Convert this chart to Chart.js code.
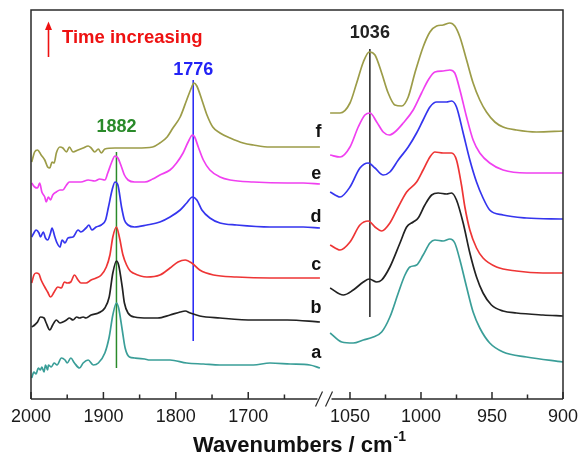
<!DOCTYPE html>
<html><head><meta charset="utf-8">
<script src="https://cdn.jsdelivr.net/npm/chart.js@4"></script>
<style>html,body{margin:0;padding:0;background:#fff}canvas{display:block}</style>
</head><body>
<canvas id="c" width="579" height="463"></canvas>
<script>
// ---- tick values (cm-1) ----
const ticksLow = [2000,1950,1900,1850,1800,1750,1700,1650];
const ticksHigh = [1050,1025,1000,975,950,925,900];
const seriesNames = ['a','b','c','d','e','f'];

// ---- spectra, 2000-1600 cm-1 region: [wavenumber, absorbance (offset)] ----
const aLow = [[1999,0.21],[1996,0.27],[1993,0.25],[1990,0.31],[1987,0.29],[1985,0.32],[1982,0.27],[1980,0.34],[1977,0.29],[1976,0.34],[1972,0.32],[1968,0.36],[1964,0.34],[1958,0.41],[1953,0.39],[1950,0.36],[1945,0.41],[1940,0.36],[1933,0.31],[1928,0.36],[1921,0.39],[1914,0.34],[1907,0.36],[1898,0.46],[1892,0.62],[1887,0.84],[1882,0.96],[1879,0.91],[1874,0.69],[1870,0.51],[1864,0.42],[1857,0.41],[1843,0.40],[1836,0.39],[1808,0.39],[1785,0.36],[1762,0.35],[1739,0.34],[1693,0.34],[1670,0.36],[1642,0.35],[1615,0.34],[1601,0.31]];
const bLow = [[1999,0.72],[1995,0.74],[1991,0.77],[1987,0.82],[1982,0.81],[1979,0.76],[1974,0.69],[1970,0.74],[1965,0.79],[1960,0.76],[1956,0.77],[1951,0.79],[1947,0.81],[1942,0.79],[1937,0.82],[1933,0.81],[1928,0.82],[1924,0.81],[1917,0.84],[1907,0.86],[1898,0.91],[1892,1.02],[1887,1.26],[1882,1.38],[1879,1.34],[1874,1.12],[1871,0.96],[1866,0.86],[1857,0.82],[1838,0.81],[1825,0.81],[1808,0.84],[1794,0.87],[1787,0.88],[1780,0.86],[1767,0.83],[1739,0.81],[1693,0.79],[1646,0.79],[1601,0.77]];
const cLow = [[1999,1.16],[1996,1.24],[1993,1.26],[1989,1.25],[1986,1.19],[1981,1.12],[1977,1.07],[1973,1.02],[1968,1.07],[1963,1.12],[1958,1.11],[1954,1.17],[1950,1.16],[1945,1.17],[1940,1.24],[1935,1.19],[1931,1.16],[1924,1.16],[1917,1.19],[1910,1.21],[1903,1.24],[1896,1.32],[1891,1.44],[1887,1.62],[1882,1.72],[1878,1.62],[1873,1.44],[1868,1.34],[1863,1.28],[1859,1.26],[1840,1.22],[1822,1.24],[1808,1.31],[1797,1.37],[1787,1.39],[1778,1.36],[1767,1.29],[1748,1.24],[1716,1.22],[1670,1.21],[1624,1.21],[1601,1.21]];
const dLow = [[1999,1.62],[1996,1.66],[1993,1.69],[1989,1.66],[1987,1.62],[1983,1.67],[1980,1.61],[1977,1.59],[1973,1.66],[1971,1.71],[1967,1.62],[1964,1.56],[1960,1.52],[1957,1.59],[1953,1.56],[1949,1.61],[1942,1.62],[1935,1.69],[1931,1.67],[1924,1.71],[1920,1.74],[1916,1.69],[1910,1.72],[1903,1.74],[1897,1.79],[1893,1.92],[1888,2.09],[1884,2.17],[1880,2.14],[1875,1.92],[1871,1.79],[1866,1.74],[1857,1.72],[1840,1.74],[1822,1.77],[1808,1.82],[1794,1.89],[1785,1.96],[1777,2.02],[1771,1.99],[1764,1.89],[1753,1.81],[1739,1.76],[1716,1.74],[1670,1.72],[1624,1.72],[1601,1.71]];
const eLow = [[1999,2.16],[1995,2.12],[1991,2.11],[1988,2.16],[1985,2.07],[1981,2.02],[1979,1.97],[1976,2.02],[1973,1.99],[1970,2.04],[1965,2.07],[1960,2.09],[1956,2.09],[1951,2.14],[1947,2.17],[1940,2.17],[1931,2.17],[1921,2.19],[1912,2.18],[1905,2.20],[1898,2.19],[1894,2.26],[1889,2.36],[1884,2.43],[1880,2.41],[1875,2.32],[1871,2.24],[1866,2.19],[1857,2.17],[1843,2.17],[1832,2.20],[1822,2.24],[1808,2.29],[1799,2.36],[1790,2.46],[1783,2.57],[1777,2.64],[1774,2.62],[1769,2.52],[1762,2.39],[1753,2.29],[1739,2.22],[1725,2.19],[1693,2.17],[1646,2.16],[1624,2.16],[1601,2.15]];
const fLow = [[1999,2.37],[1995,2.47],[1991,2.49],[1986,2.44],[1981,2.39],[1977,2.32],[1974,2.31],[1971,2.37],[1968,2.36],[1965,2.46],[1960,2.52],[1956,2.51],[1951,2.47],[1947,2.52],[1942,2.47],[1935,2.49],[1928,2.51],[1921,2.53],[1917,2.51],[1912,2.47],[1907,2.50],[1903,2.46],[1898,2.50],[1884,2.51],[1866,2.51],[1854,2.51],[1832,2.52],[1822,2.56],[1812,2.62],[1804,2.71],[1794,2.82],[1785,2.99],[1778,3.12],[1775,3.16],[1771,3.13],[1764,2.99],[1757,2.84],[1749,2.72],[1739,2.66],[1725,2.61],[1707,2.56],[1693,2.54],[1670,2.52],[1646,2.52],[1624,2.52],[1601,2.52]];

// ---- spectra, 1065-900 cm-1 region ----
const aHigh = [[1064,0.66],[1055.8,0.57],[1047.7,0.56],[1040.6,0.59],[1033.6,0.62],[1027.7,0.67],[1021.9,0.82],[1016,1.06],[1011.3,1.24],[1007.8,1.32],[1003.1,1.34],[998.5,1.44],[993.7,1.56],[990.2,1.59],[984.4,1.58],[979.7,1.60],[976.2,1.56],[972.6,1.39],[967.9,1.12],[963.3,0.87],[958.6,0.71],[951.6,0.56],[942.2,0.47],[925.7,0.42],[900,0.37]];
const bHigh = [[1064,1.11],[1054.7,1.04],[1047.7,1.09],[1040.6,1.17],[1036.4,1.20],[1031.2,1.17],[1027.7,1.19],[1021.9,1.32],[1014.8,1.56],[1010.1,1.72],[1005.5,1.77],[1002,1.81],[997.3,1.94],[992.5,2.04],[987.9,2.06],[982,2.05],[978.5,2.06],[975,1.99],[970.3,1.76],[965.6,1.46],[960.9,1.22],[956.3,1.06],[950.4,0.94],[942.2,0.88],[932.8,0.86],[914.1,0.84],[900,0.83]];
const cHigh = [[1064,1.54],[1057,1.49],[1050,1.57],[1043,1.74],[1037.1,1.78],[1032.4,1.72],[1027.7,1.68],[1021.9,1.76],[1016,1.92],[1010.1,2.07],[1003.1,2.17],[998.5,2.29],[993.7,2.42],[990.2,2.47],[984.4,2.46],[978.5,2.46],[975,2.39],[971.5,2.14],[969.1,1.92],[965.6,1.69],[960.9,1.51],[956.3,1.41],[946.8,1.32],[932.8,1.28],[914.1,1.26],[900,1.26]];
const dHigh = [[1064,2.07],[1057,2.02],[1050,2.12],[1043,2.31],[1037.1,2.36],[1032.4,2.31],[1026.6,2.24],[1021.9,2.27],[1016,2.39],[1009,2.52],[1003.1,2.66],[998.5,2.79],[993.7,2.92],[989,2.97],[982,2.97],[978.5,2.98],[975,2.92],[970.3,2.66],[965.6,2.39],[960.9,2.17],[956.3,2.01],[951.6,1.89],[942.2,1.84],[925.7,1.81],[900,1.80]];
const eHigh = [[1064,2.44],[1057,2.42],[1050,2.52],[1044.2,2.72],[1039.5,2.84],[1035.9,2.86],[1031.2,2.77],[1026.6,2.67],[1022.4,2.64],[1018.4,2.67],[1012.5,2.76],[1005.5,2.89],[999.6,3.06],[994.9,3.19],[990.2,3.27],[984.4,3.28],[979.7,3.29],[976.2,3.26],[972.6,3.09],[967.9,2.82],[963.3,2.59],[958.6,2.46],[951.6,2.36],[942.2,2.29],[925.7,2.26],[900,2.26]];
const fHigh = [[1064,2.86],[1057,2.86],[1050,2.96],[1045.3,3.16],[1040.6,3.37],[1036.4,3.47],[1032.4,3.44],[1027.7,3.26],[1023.1,3.06],[1018.4,2.94],[1013.6,2.93],[1009,3.02],[1004.3,3.26],[998.5,3.52],[993.7,3.67],[989,3.73],[984.4,3.74],[979.7,3.76],[976.2,3.73],[972.6,3.62],[967.9,3.39],[963.3,3.16],[958.6,2.99],[953.9,2.87],[948,2.77],[942.2,2.72],[932.8,2.69],[918.7,2.67],[900,2.68]];

// ---- marked peak positions ----
const peakWn = [1882, 1776, 1036];
const peakSpan = [[0.31, 2.47], [0.58, 3.19], [0.82, 3.50]];

const lowSets = [aLow,bLow,cLow,dLow,eLow,fLow];
const highSets = [aHigh,bHigh,cHigh,dHigh,eHigh,fHigh];
const colors = ['#3a9e98','#222222','#ee3535','#3535ee','#f040f0','#9c9c48'];
const peakColors = ['#2a8a2a','#2323f5','#222222'];
const peakAxes = ['x1','x1','x2'];

const toXY = arr => arr.map(p => ({x:p[0], y:p[1]}));
const datasets = [];
seriesNames.forEach((n,i) => {
  const common = {borderColor:colors[i], borderWidth:1.7, pointRadius:0, fill:false, cubicInterpolationMode:'monotone', yAxisID:'y'};
  datasets.push(Object.assign({label:n+'-low', data:toXY(lowSets[i]), xAxisID:'x1'}, common));
  datasets.push(Object.assign({label:n+'-high', data:toXY(highSets[i]), xAxisID:'x2'}, common));
});
peakWn.forEach((w,i) => {
  datasets.push({label:'peak'+w, data:[{x:w,y:peakSpan[i][0]},{x:w,y:peakSpan[i][1]}], xAxisID:peakAxes[i], yAxisID:'y',
    borderColor:peakColors[i], borderWidth:1.5, pointRadius:0, tension:0});
});

const FONT = '"Liberation Sans", Arial, Helvetica, sans-serif';

const decor = {
  id:'decor',
  afterDraw(chart){
    const ctx = chart.ctx;
    const {left,right,top,bottom} = chart.chartArea;
    const X1 = chart.scales.x1, X2 = chart.scales.x2, Y = chart.scales.y;
    ctx.save();
    ctx.strokeStyle = '#2a2a2a'; ctx.lineWidth = 1.5; ctx.lineCap='butt';
    ctx.beginPath();
    ctx.moveTo(left, bottom); ctx.lineTo(left, top); ctx.lineTo(right, top); ctx.lineTo(right, bottom);
    ctx.stroke();
    const bx = X1.right - 0.5;
    ctx.beginPath();
    ctx.moveTo(left, bottom); ctx.lineTo(bx-7, bottom);
    ctx.moveTo(bx+7, bottom); ctx.lineTo(right, bottom);
    ctx.stroke();
    ctx.lineWidth = 1.2;
    ctx.beginPath();
    [-5.5, 4.5].forEach(d => { ctx.moveTo(bx+d-3.5, bottom+7.5); ctx.lineTo(bx+d+3.5, bottom-7.5); });
    ctx.stroke();
    // inward ticks
    ctx.lineWidth = 1.5;
    ctx.beginPath();
    ticksLow.forEach(v => { const px = X1.getPixelForValue(v); const L = v % 100 === 0 ? 7 : 4.5; ctx.moveTo(px, bottom); ctx.lineTo(px, bottom - L); });
    ticksHigh.forEach(v => { const px = X2.getPixelForValue(v); const L = v % 50 === 0 ? 7 : 4.5; ctx.moveTo(px, bottom); ctx.lineTo(px, bottom - L); });
    ctx.stroke();

    // series letters
    ctx.font = 'bold 18px ' + FONT; ctx.fillStyle = '#111'; ctx.textAlign = 'right'; ctx.textBaseline = 'alphabetic';
    const letterY = [0.41, 0.86, 1.29, 1.77, 2.20, 2.62];
    seriesNames.forEach((n,i) => ctx.fillText(n, X1.getPixelForValue(1599), Y.getPixelForValue(letterY[i])));

    // peak labels
    ctx.textAlign = 'center';
    const peakLabelY = [2.67, 3.24, 3.61];
    peakWn.forEach((w,i) => {
      ctx.fillStyle = peakColors[i];
      const sc = chart.scales[peakAxes[i]];
      ctx.fillText(String(w), sc.getPixelForValue(w), Y.getPixelForValue(peakLabelY[i]));
    });

    // time increasing
    ctx.fillStyle = '#ee1111'; ctx.strokeStyle = '#ee1111';
    ctx.textAlign = 'left';
    ctx.font = 'bold 18.5px ' + FONT;
    ctx.fillText('Time increasing', 62, 42.5);
    ctx.lineWidth = 1.6;
    ctx.beginPath(); ctx.moveTo(48.5, 57); ctx.lineTo(48.5, 28); ctx.stroke();
    ctx.beginPath(); ctx.moveTo(48.5, 21.5); ctx.lineTo(45, 30); ctx.lineTo(52, 30); ctx.closePath(); ctx.fill();

    // axis title
    const main = 'Wavenumbers / cm', sup = '-1';
    ctx.fillStyle = '#111';
    ctx.font = 'bold 22px ' + FONT; const w1 = ctx.measureText(main).width;
    ctx.font = 'bold 14px ' + FONT; const w2 = ctx.measureText(sup).width;
    const x0 = 299 - (w1 + w2) / 2;
    ctx.font = 'bold 22px ' + FONT; ctx.fillText(main, x0, 452);
    ctx.font = 'bold 14px ' + FONT; ctx.fillText(sup, x0 + w1 + 1, 441);
    ctx.restore();
  }
};

const axisCommon = {
  type:'linear', position:'bottom', reverse:true, stack:'wn',
  grid:{display:false, drawTicks:false},
  border:{display:false},
  ticks:{autoSkip:false, maxRotation:0, minRotation:0, padding:7, color:'#1a1a1a', font:{family:FONT, size:18}},
  afterFit: s => { s.height = 64; s.paddingLeft = 0; s.paddingRight = 0; }
};

new Chart(document.getElementById('c'), {
  type:'line',
  data:{datasets},
  options:{
    responsive:false, animation:false, devicePixelRatio:1,
    layout:{padding:{left:31, right:16, top:10, bottom:0}},
    plugins:{legend:{display:false}, tooltip:{enabled:false}, title:{display:false}},
    scales:{
      x1: Object.assign({}, axisCommon, {min:1594, max:2000, stackWeight:294,
        afterBuildTicks: s => { s.ticks = ticksLow.map(v => ({value:v})); },
        ticks: Object.assign({}, axisCommon.ticks, {callback: v => v % 100 === 0 ? String(v) : ''})}),
      x2: Object.assign({}, axisCommon, {min:900, max:1067.6, stackWeight:238,
        afterBuildTicks: s => { s.ticks = ticksHigh.map(v => ({value:v})); },
        ticks: Object.assign({}, axisCommon.ticks, {callback: v => v % 50 === 0 ? String(v) : ''})}),
      y:{type:'linear', display:false, min:0, max:3.89}
    }
  },
  plugins:[decor]
});
</script>
</body></html>
